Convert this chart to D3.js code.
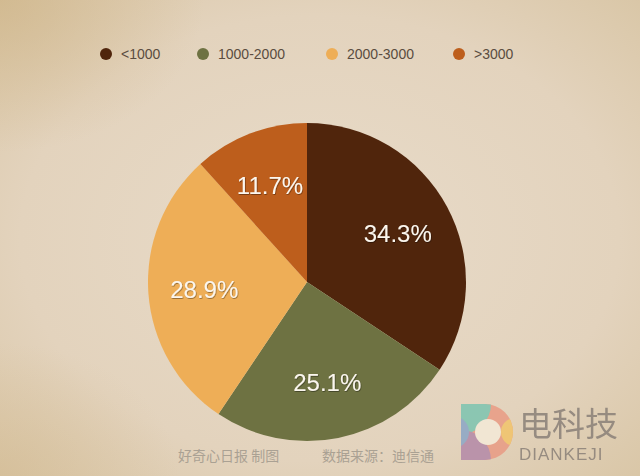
<!DOCTYPE html>
<html><head><meta charset="utf-8">
<script src="https://cdn.jsdelivr.net/npm/d3@7"></script>
<style>html,body{margin:0;padding:0;background:#e4d4bf;}svg{display:block;}</style>
</head><body>
<script>
const categories = ["<1000", "1000-2000", "2000-3000", ">3000"];
const values = [34.3, 25.1, 28.9, 11.7];
const colors = ["#50250c", "#6e7242", "#eeae57", "#bd5e1c"];
const footerLeft = "好奇心日报 制图";
const footerRight = "数据来源：迪信通";

const W = 640, H = 476;
const svg = d3.select("body").append("svg").attr("width", W).attr("height", H);
const defs = svg.append("defs");

// parchment background
const rg = defs.append("radialGradient").attr("id", "bg").attr("cx", "50%").attr("cy", "50%").attr("r", "72%");
rg.append("stop").attr("offset", "0%").attr("stop-color", "#e8dbc9");
rg.append("stop").attr("offset", "65%").attr("stop-color", "#e3d3bd");
rg.append("stop").attr("offset", "100%").attr("stop-color", "#d9c6a6");
svg.append("rect").attr("width", W).attr("height", H).attr("fill", "url(#bg)");
const tl = defs.append("radialGradient").attr("id", "tl").attr("cx", "0%").attr("cy", "0%").attr("r", "32%");
tl.append("stop").attr("offset", "0%").attr("stop-color", "#cdb283").attr("stop-opacity", 0.6);
tl.append("stop").attr("offset", "100%").attr("stop-color", "#cdb283").attr("stop-opacity", 0);
svg.append("rect").attr("width", W).attr("height", H).attr("fill", "url(#tl)");
const br = defs.append("radialGradient").attr("id", "br").attr("cx", "0%").attr("cy", "100%").attr("r", "28%");
br.append("stop").attr("offset", "0%").attr("stop-color", "#d2b98f").attr("stop-opacity", 0.5);
br.append("stop").attr("offset", "100%").attr("stop-color", "#d2b98f").attr("stop-opacity", 0);
svg.append("rect").attr("width", W).attr("height", H).attr("fill", "url(#br)");

// text shadow filter
const f = defs.append("filter").attr("id", "sh").attr("x", "-20%").attr("y", "-20%").attr("width", "140%").attr("height", "140%");
f.append("feDropShadow").attr("dx", 0.6).attr("dy", 0.8).attr("stdDeviation", 0.6).attr("flood-color", "#000").attr("flood-opacity", 0.45);

// legend
const legendX = [106, 203, 332, 459];
const lg = svg.append("g").attr("font-family", "Liberation Sans, Arial, sans-serif").attr("font-size", 14);
categories.forEach((c, i) => {
  const g = lg.append("g").attr("transform", `translate(${legendX[i]},54)`);
  g.append("circle").attr("r", 6).attr("fill", colors[i]);
  g.append("text").attr("x", 15).attr("y", 5).attr("fill", "#5a4c40").text(c);
});

// pie
const cx = 307, cy = 282, R = 159;
const pie = d3.pie().sort(null).value(d => d)(values);
const arc = d3.arc().innerRadius(0).outerRadius(R);
const labelArc = d3.arc().innerRadius(103).outerRadius(103);
const pg = svg.append("g").attr("transform", `translate(${cx},${cy})`);
pg.selectAll("path").data(pie).join("path").attr("d", arc).attr("fill", (d, i) => colors[i]);
pg.selectAll("text").data(pie).join("text")
  .attr("transform", d => `translate(${labelArc.centroid(d)})`)
  .attr("text-anchor", "middle").attr("dy", "0.35em")
  .attr("font-family", "Liberation Sans, Arial, sans-serif").attr("font-size", 24)
  .attr("fill", "#fbf6ee").attr("filter", "url(#sh)")
  .text(d => d.data.toFixed(1) + "%");

// footer
const ft = svg.append("g").attr("font-family", "Noto Sans CJK SC, sans-serif").attr("font-size", 14).attr("fill", "#aaa193");
ft.append("text").attr("x", 178).attr("y", 461).text(footerLeft);
ft.append("text").attr("x", 322).attr("y", 461).text(footerRight);

// watermark logo
const lgW = svg.append("g").attr("transform", "translate(461,404)").attr("opacity", 0.85);
const clip = defs.append("clipPath").attr("id", "dclip");
clip.append("path").attr("d", "M0,0 H24 A28,28 0 0 1 24,56 H0 Z");
const dg = lgW.append("g").attr("clip-path", "url(#dclip)");
dg.append("rect").attr("width", 54).attr("height", 56).attr("fill", "#e99b84");
dg.append("circle").attr("cx", 0).attr("cy", 0).attr("r", 30).attr("fill", "#7cc4b0");
dg.append("circle").attr("cx", 0).attr("cy", 56).attr("r", 30).attr("fill", "#b489a8");
dg.append("circle").attr("cx", -8).attr("cy", 28).attr("r", 16).attr("fill", "#8aa6c6");
dg.append("circle").attr("cx", 54).attr("cy", 28).attr("r", 14).attr("fill", "#f2c46a");
dg.append("circle").attr("cx", 27).attr("cy", 28).attr("r", 13).attr("fill", "#f4ead8");
lgW.append("text").attr("x", 58).attr("y", 32).attr("font-family", "Noto Sans CJK SC, sans-serif")
  .attr("font-size", 33).attr("fill", "#8a8078").text("电科技");
lgW.append("text").attr("x", 58).attr("y", 56).attr("font-family", "Liberation Sans, Arial, sans-serif")
  .attr("font-size", 17).attr("letter-spacing", 1).attr("fill", "#8a8078").text("DIANKEJI");
</script>
</body></html>
